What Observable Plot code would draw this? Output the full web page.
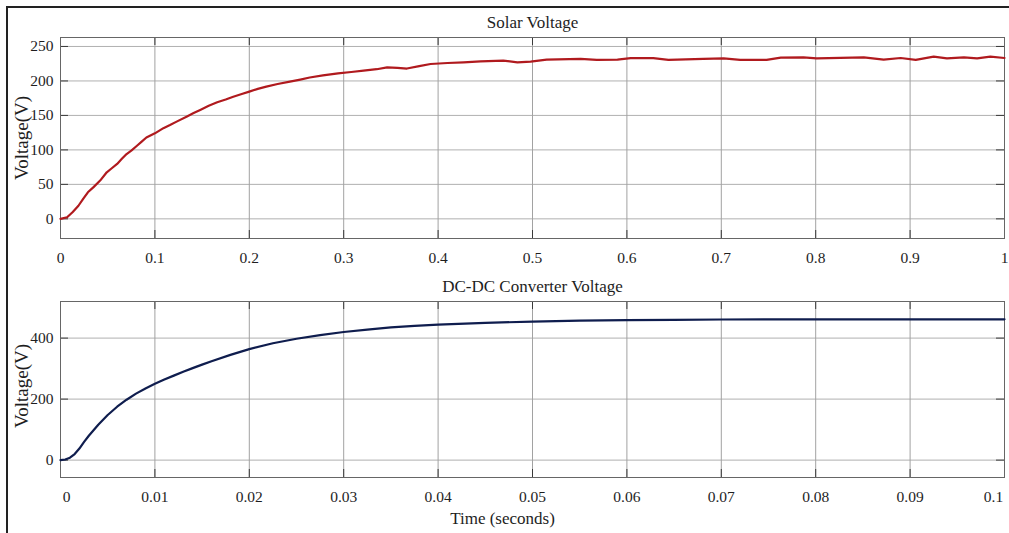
<!DOCTYPE html>
<html>
<head>
<meta charset="utf-8">
<script src="https://cdn.jsdelivr.net/npm/d3@7"></script>
<script src="https://cdn.jsdelivr.net/npm/@observablehq/plot@0.6"></script>
<style>
  html, body { margin: 0; padding: 0; background: #fff; }
  #page { position: relative; width: 1009px; height: 533px; overflow: hidden; background: #fff; }
  #page svg { position: absolute; left: 0; }
  #border { position: absolute; left: 6px; top: 6px; right: 0; bottom: 0;
            border-left: 2px solid #222; border-top: 2px solid #222; z-index: 2; pointer-events: none; }
</style>
</head>
<body>
<div id="page"><div id="border"></div></div>
<script>
// Solar panel terminal voltage (V) over the first second
const solarTime = [0, 0.007, 0.013, 0.019, 0.024, 0.029, 0.035, 0.042, 0.049, 0.054, 0.060, 0.065, 0.070, 0.075,
  0.081, 0.086, 0.091, 0.100, 0.109, 0.116, 0.123, 0.134, 0.141, 0.148, 0.157, 0.166, 0.175, 0.183, 0.192, 0.200,
  0.209, 0.218, 0.230, 0.243, 0.254, 0.264, 0.278, 0.294, 0.308, 0.321, 0.335, 0.346, 0.357, 0.367, 0.380, 0.392,
  0.410, 0.427, 0.445, 0.469, 0.484, 0.498, 0.515, 0.551, 0.568, 0.590, 0.604, 0.628, 0.644, 0.681, 0.7025, 0.720,
  0.748, 0.763, 0.787, 0.801, 0.851, 0.872, 0.890, 0.906, 0.925, 0.939, 0.957, 0.971, 0.985, 1.000];
const solarVolt = [0, 2.3, 10, 19, 29, 38.5, 46, 55.5, 67.5, 73, 79.7, 87, 94, 99,
  106, 112, 118, 124, 131.5, 136, 141, 148.5, 153.5, 158, 164, 169, 173, 177, 181, 184.5,
  188.5, 191.7, 195.5, 199, 202, 205, 208, 211, 213, 215, 217, 219.7, 219, 218, 221.5, 224.6,
  226, 227, 228.5, 229.4, 227, 228, 231, 232, 230.5, 231, 233, 233, 230.5, 232, 232.8, 230.5,
  230.5, 233.8, 234.2, 232.8, 234.2, 231, 233.3, 230.5, 235.2, 232.8, 234.2, 232.8, 235.2, 233.3];

// DC-DC converter output voltage (V) over the first 0.1 s
const dcTime = [0, 0.0005, 0.001, 0.0015, 0.002, 0.0025, 0.003, 0.004, 0.005, 0.006, 0.007, 0.008, 0.009, 0.010,
  0.011, 0.012, 0.013, 0.014, 0.015, 0.016, 0.018, 0.020, 0.0225, 0.025, 0.0275, 0.030, 0.0325, 0.035, 0.0375,
  0.040, 0.045, 0.050, 0.055, 0.060, 0.065, 0.070, 0.080, 0.090, 0.100];
const dcVolt = [0, 2, 8, 20, 38, 60, 80, 116, 148, 175, 198, 218, 235, 250,
  264, 277, 289.5, 301.5, 313, 324, 345, 364, 383, 398, 410, 420, 428, 435, 440,
  444, 450, 454, 457, 459, 460, 461, 461.5, 461.5, 461.5];

// Tick values and labels
const solarXTicks = [0, 0.1, 0.2, 0.3, 0.4, 0.5, 0.6, 0.7, 0.8, 0.9, 1];
const solarYTicks = [0, 50, 100, 150, 200, 250];
const dcXTicks = [0, 0.01, 0.02, 0.03, 0.04, 0.05, 0.06, 0.07, 0.08, 0.09, 0.1];
const dcYTicks = [0, 200, 400];

const titles = ["Solar Voltage", "DC-DC Converter Voltage"];
const yLabel = "Voltage(V)";
const xLabel = "Time (seconds)";

const FONT = "Liberation Serif, Times New Roman, serif";
const INK = "#1e1e1e";
const GRID = "#b0b0b0";
const FRAME = "#666";
const TICK = "#3a3a3a";
const W = 1009;

function panel({time, volt, color, xDomain, yDomain, xTicks, yTicks, fmt, title, height, mt, mb, top, xLabelText, edgeShift}) {
  const ml = 60, mr = 5;
  const fw = W - ml - mr, fh = height - mt - mb;
  const rows = time.map((t, i) => ({t, v: volt[i]}));
  const inner = xTicks.slice(1, -1);
  const first = xTicks[0], last = xTicks[xTicks.length - 1];
  const marks = [
    Plot.ruleY(yTicks, {y: d => d, stroke: GRID, strokeWidth: 1}),
    Plot.ruleX(inner, {x: d => d, stroke: "#a2a2a2", strokeWidth: 1}),
    // inward tick marks on all four edges
    Plot.tickX(xTicks, {x: d => d, insetBottom: fh - 8, stroke: TICK}),
    Plot.tickX(xTicks, {x: d => d, insetTop: fh - 8, stroke: TICK}),
    Plot.tickY(yTicks, {y: d => d, insetRight: fw - 8, stroke: TICK}),
    Plot.tickY(yTicks, {y: d => d, insetLeft: fw - 8, stroke: TICK}),
    Plot.frame({stroke: FRAME, strokeWidth: 1}),
    Plot.line(rows, {x: "t", y: "v", stroke: color, strokeWidth: 2.2, strokeLinejoin: "round"}),
    // tick labels
    Plot.text(yTicks, {y: d => d, frameAnchor: "left", text: d => String(d), textAnchor: "end", lineAnchor: "middle",
      dx: -7, fontSize: 15.5, fill: INK}),
    Plot.text(inner, {x: d => d, frameAnchor: "bottom", text: fmt, lineAnchor: "middle", dy: 19.5, fontSize: 15.5, fill: INK}),
    Plot.text([first], {x: d => d, frameAnchor: "bottom", text: fmt, lineAnchor: "middle", dy: 19.5, dx: edgeShift[0], fontSize: 15.5, fill: INK}),
    Plot.text([last], {x: d => d, frameAnchor: "bottom", text: fmt, lineAnchor: "middle", dy: 19.5, dx: edgeShift[1], fontSize: 15.5, fill: INK}),
    // title and axis labels
    Plot.text([title], {frameAnchor: "top", text: d => d, lineAnchor: "middle", dy: -15.3, fontSize: 17, fill: INK}),
    Plot.text([yLabel], {frameAnchor: "left", text: d => d, rotate: -90, textAnchor: "middle", lineAnchor: "middle",
      dx: -39, dy: top ? 0 : -3.5, fontSize: 19, fill: INK})
  ];
  if (xLabelText) {
    marks.push(Plot.text([xLabelText], {frameAnchor: "bottom", text: d => d, lineAnchor: "middle",
      dy: 41.5, dx: -30, fontSize: 17, fill: INK}));
  }
  return Plot.plot({
    width: W, height,
    marginLeft: ml, marginRight: mr, marginTop: mt, marginBottom: mb,
    x: {domain: xDomain, axis: null},
    y: {domain: yDomain, axis: null},
    style: {fontFamily: FONT, background: "transparent", overflow: "visible"},
    marks
  });
}

const page = document.getElementById("page");

const solar = panel({
  time: solarTime, volt: solarVolt, color: "#b01a1e",
  xDomain: [0, 1], yDomain: [-28.5, 263],
  xTicks: solarXTicks, yTicks: solarYTicks,
  fmt: d => d3.format("~g")(d),
  title: titles[0], height: 270, mt: 37, mb: 32, top: true, xLabelText: null, edgeShift: [0, 0]
});
solar.style.top = "0px";
page.appendChild(solar);

const dc = panel({
  time: dcTime, volt: dcVolt, color: "#0f1d4e",
  xDomain: [0, 0.1], yDomain: [-57, 520],
  xTicks: dcXTicks, yTicks: dcYTicks,
  fmt: d => d3.format("~g")(d),
  title: titles[1], height: 263, mt: 31, mb: 56, top: false, xLabelText: xLabel, edgeShift: [6, -11]
});
dc.style.top = "270px";
page.appendChild(dc);
</script>
</body>
</html>
